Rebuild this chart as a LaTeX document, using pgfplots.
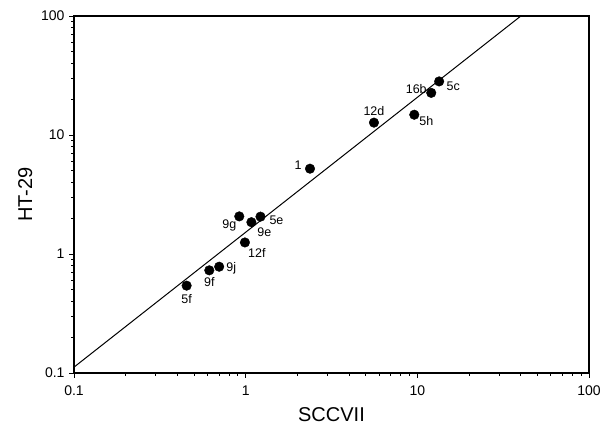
\documentclass[border=0pt]{standalone}
\usepackage{fontspec}
\setmainfont{Liberation Sans}
\usepackage{pgfplots}
\pgfplotsset{compat=1.18}
\begin{document}
\begin{tikzpicture}[x=1pt,y=1pt, lab/.style={font=\fontsize{12.5}{14}\selectfont, inner sep=0pt}]
\path[use as bounding box] (-74,-62) rectangle (526,373);
\begin{axis}[
  at={(0,0)}, anchor=south west,
  scale only axis, width=515pt, height=357pt,
  xmode=log, ymode=log,
  xmin=0.1, xmax=100, ymin=0.1, ymax=100,
  xtick={0.1,1,10,100}, xticklabels={0.1,1,10,100},
  ytick={0.1,1,10,100}, yticklabels={0.1,1,10,100},
  tick pos=left, tick align=outside,
  major tick length=5pt, minor tick length=3pt,
  every tick/.style={black, line width=0.9pt},
  axis line style={line width=1.1pt},
  /pgf/number format/assume math mode=true,
  tick label style={font=\fontsize{14}{16}\selectfont},
  xticklabel style={yshift=-4pt},
  yticklabel style={xshift=-1pt},
  xlabel={SCCVII}, ylabel={HT-29},
  label style={font=\fontsize{20}{23}\selectfont},
  xlabel style={yshift=-5pt},
  ylabel style={yshift=2pt},
  clip=true,
]
\addplot[black, line width=1pt] coordinates {(0.1,0.112) (40.1,100)};
\addplot[only marks, mark=*, mark size=4.8pt, black] coordinates {
 (0.453,0.542) (0.614,0.729) (0.701,0.782) (0.99,1.25) (0.918,2.07)
 (1.08,1.85) (1.22,2.06) (2.37,5.21) (5.59,12.7) (9.6,14.8) (12.05,22.6) (13.4,28.2)
};
\node[lab] at (axis cs:0.453,0.542) [yshift=-13pt] {5f};
\node[lab] at (axis cs:0.614,0.729) [yshift=-12pt] {9f};
\node[lab] at (axis cs:0.701,0.782) [xshift=12pt,yshift=-2pt] {9j};
\node[lab] at (axis cs:0.99,1.25) [xshift=12pt,yshift=-11pt] {12f};
\node[lab] at (axis cs:0.918,2.07) [xshift=-10pt,yshift=-9pt] {9g};
\node[lab] at (axis cs:1.08,1.85) [xshift=13pt,yshift=-10pt] {9e};
\node[lab] at (axis cs:1.22,2.06) [xshift=16pt,yshift=-4pt] {5e};
\node[lab] at (axis cs:2.37,5.21) [xshift=-12pt,yshift=3pt] {1};
\node[lab] at (axis cs:5.59,12.7) [yshift=12pt] {12d};
\node[lab] at (axis cs:9.6,14.8) [xshift=12pt,yshift=-6pt] {5h};
\node[lab] at (axis cs:12.05,22.6) [xshift=-15pt,yshift=4pt] {16b};
\node[lab] at (axis cs:13.4,28.2) [xshift=14pt,yshift=-5pt] {5c};
\end{axis}
\end{tikzpicture}
\end{document}
